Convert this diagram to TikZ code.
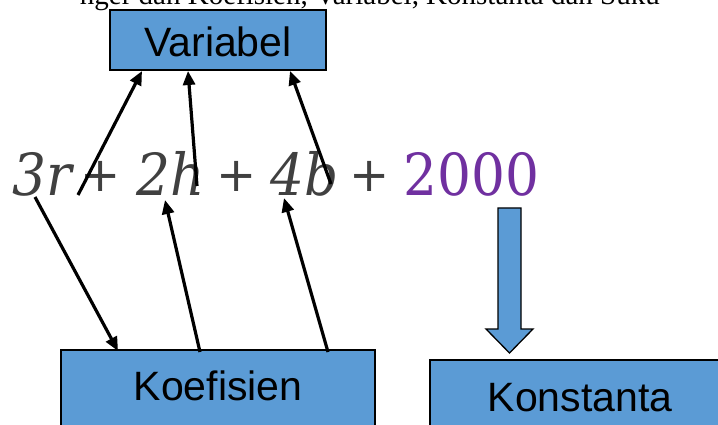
\documentclass[tikz,border=0pt]{standalone}
\usepackage{fontspec}
\setmainfont{Liberation Serif}
\newfontfamily\boxfont{Liberation Sans}
\newfontfamily\eqfont[FakeStretch=0.92]{DejaVu Serif}
\newfontfamily\plusfont{DejaVu Sans}
\usetikzlibrary{arrows.meta}
\definecolor{boxblue}{HTML}{5B9BD5}
\definecolor{eqgray}{HTML}{404040}
\definecolor{eqpurple}{HTML}{7030A0}
\tikzset{
  lbox/.style={draw=black, line width=1.3pt, fill=boxblue},
  lbl/.style={font=\boxfont\fontsize{41}{45}\selectfont, anchor=base, inner sep=0pt},
  term/.style={font=\eqfont\itshape\fontsize{58}{60}\selectfont, text=eqgray, anchor=base west, inner sep=0pt},
  const/.style={font=\eqfont\fontsize{58}{60}\selectfont, text=eqpurple, anchor=base west, inner sep=0pt},
  plus/.style={font=\plusfont\fontsize{48}{50}\selectfont, text=eqgray, anchor=base, inner sep=0pt},
  conn/.style={draw=black, line width=3.2pt, -{Triangle[length=14pt,width=12pt]}},
  blockarrow/.style={draw=black, line width=1.3pt, fill=boxblue, line join=miter}
}
\begin{document}
\begin{tikzpicture}[x=1pt,y=-1pt]
\useasboundingbox (0,0) rectangle (718,425);
\clip (0,0) rectangle (718,425);
% partial heading at the top
\node[font=\fontsize{29}{30}\selectfont, anchor=base east, inner sep=0pt] (head) at (660,5) {nger dan Koefisien, Variabel, Konstanta dan Suku};
% boxes
\path[lbox] (110,10) rectangle (326,70);
\node[lbl] (var) at (218,57) {Variabel};
\path[lbox] (61,350) rectangle (375,440);
\node[lbl] (koef) at (218,400) {Koefisien};
\path[lbox] (430,360) rectangle (725,440);
\node[lbl] (kons) at (580,411) {Konstanta};
% equation
\node[term] (t1) at (12,196) {3r};
\node[plus] (p1) at (101,192) {+};
\node[term] (t2) at (136,196) {2h};
\node[plus] (p2) at (237,192) {+};
\node[term] (t3) at (270,196) {4b};
\node[plus] (p3) at (370,192) {+};
\node[const] (c) at (403,196) {2000};
% anchor coordinates
\coordinate (v1) at (142,71);
\coordinate (v2) at (188,71);
\coordinate (v3) at (290,71);
\coordinate (s1) at (78,195);
\coordinate (s2) at (197,186);
\coordinate (s3) at (331,184);
\coordinate (k1) at (118,351);
\coordinate (k2) at (200,352);
\coordinate (k3) at (328,352);
\coordinate (e1) at (35,197);
\coordinate (e2) at (165,200);
\coordinate (e3) at (284,198);
% connectors
\draw[conn] (s1) -- (v1);
\draw[conn] (s2) -- (v2);
\draw[conn] (s3) -- (v3);
\draw[conn] (e1) -- (k1);
\draw[conn] (k2) -- (e2);
\draw[conn] (k3) -- (e3);
% block arrow
\path[blockarrow] (498,208) -- (521,208) -- (521,329) -- (533,329) -- (509.5,353) -- (486,329) -- (498,329) -- cycle;
\end{tikzpicture}
\end{document}
